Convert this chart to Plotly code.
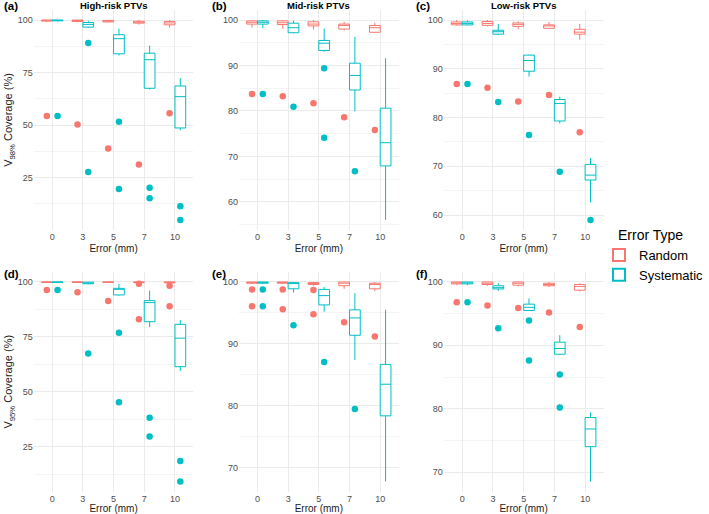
import plotly.graph_objects as go
from plotly.subplots import make_subplots

# ---------------- data ----------------
ERRORS = ["0", "3", "5", "7", "10"]
GROUPS = ["Random", "Systematic"]
RISK_TITLES = ["High-risk PTVs", "Mid-risk PTVs", "Low-risk PTVs"]
PANEL_TAGS = ["(a)", "(b)", "(c)", "(d)", "(e)", "(f)"]
Y_TITLES = ["V<sub>98%</sub> Coverage (%)", "V<sub>95%</sub> Coverage (%)"]
LEGEND_TITLE = "Error Type"
Y_DTICKS = [25, 10, 10, 25, 10, 10]

# (a) V98%, high-risk
A_RANDOM = dict(lower=[99.0, 98.9, 98.8, 97.8, 96.4], q1=[99.5, 99.3, 99.1, 98.5, 97.7],
                median=[99.8, 99.7, 99.5, 99.0, 98.6], q3=[100, 100, 99.8, 99.4, 99.3],
                upper=[100, 100, 100, 100, 100],
                out_x=["0", "3", "5", "7", "10"], out_y=[54.3, 50.3, 38.8, 31.2, 55.6])
A_SYSTEMATIC = dict(lower=[99.3, 96.2, 83.1, 66.9, 47.5], q1=[99.6, 96.6, 83.9, 67.5, 48.6],
                    median=[99.8, 97.9, 91.1, 81.1, 63.5], q3=[100, 98.8, 93.0, 84.2, 68.6],
                    upper=[100, 99.7, 95.9, 87.8, 72.3],
                    out_x=["0", "3", "3", "5", "5", "7", "7", "10", "10"],
                    out_y=[54.3, 89.0, 27.7, 51.6, 19.6, 20.1, 15.1, 11.3, 4.8])
# (b) V98%, mid-risk
B_RANDOM = dict(lower=[98.3, 98.1, 97.9, 97.7, 97.3], q1=[99.1, 99.0, 98.7, 98.0, 97.3],
                median=[99.5, 99.4, 99.1, 98.8, 98.3], q3=[99.8, 99.8, 99.6, 99.1, 98.8],
                upper=[100, 100, 100, 99.6, 99.4],
                out_x=["0", "3", "5", "7", "10"], out_y=[83.7, 83.2, 81.7, 78.6, 75.8])
B_SYSTEMATIC = dict(lower=[98.2, 97.1, 93.0, 79.9, 56.0], q1=[99.1, 97.2, 93.3, 84.6, 67.9],
                    median=[99.5, 98.3, 94.9, 87.8, 73.0], q3=[99.8, 99.3, 95.5, 90.5, 80.6],
                    upper=[100, 99.85, 98.1, 96.3, 91.6],
                    out_x=["0", "3", "5", "5", "7"], out_y=[83.7, 80.9, 89.4, 74.1, 66.7])
# (c) V98%, low-risk
C_RANDOM = dict(lower=[98.8, 98.7, 98.1, 98.2, 96.0], q1=[99.0, 98.9, 98.7, 98.3, 97.1],
                median=[99.3, 99.3, 99.1, 98.8, 97.5], q3=[99.6, 99.7, 99.4, 99.0, 98.1],
                upper=[100, 100, 99.7, 99.6, 99.2],
                out_x=["0", "3", "5", "7", "10"], out_y=[86.9, 86.1, 83.3, 84.6, 77.0])
C_SYSTEMATIC = dict(lower=[98.9, 96.9, 88.4, 78.8, 62.6], q1=[99.0, 97.1, 89.5, 79.3, 67.2],
                    median=[99.3, 97.6, 91.7, 82.9, 68.2], q3=[99.6, 97.9, 92.8, 83.7, 70.4],
                    upper=[99.9, 99.2, 92.9, 84.3, 71.7],
                    out_x=["0", "3", "5", "7", "10"], out_y=[86.9, 83.2, 76.4, 68.9, 59.0])
# (d) V95%, high-risk
D_RANDOM = dict(lower=[99.6, 99.6, 99.6, 99.3, 99.2], q1=[99.8, 99.8, 99.8, 99.7, 99.6],
                median=[99.95, 99.95, 99.95, 99.9, 99.9], q3=[100, 100, 100, 100, 100],
                upper=[100, 100, 100, 100, 100],
                out_x=["0", "3", "5", "7", "7", "10", "10"],
                out_y=[96.4, 95.3, 91.3, 99.2, 83.0, 98.3, 88.9])
D_SYSTEMATIC = dict(lower=[99.7, 98.9, 93.8, 79.4, 59.5], q1=[99.8, 99.2, 94.1, 81.9, 61.4],
                    median=[99.95, 99.5, 96.7, 90.6, 74.4], q3=[100, 99.9, 97.1, 91.5, 80.7],
                    upper=[100, 100, 99.1, 96.1, 82.6],
                    out_x=["0", "3", "5", "5", "7", "7", "10", "10"],
                    out_y=[96.4, 67.4, 76.9, 45.2, 38.1, 29.6, 18.5, 9.1])
# (e) V95%, mid-risk
E_RANDOM = dict(lower=[99.7, 99.7, 99.4, 98.9, 98.5], q1=[99.8, 99.8, 99.6, 99.4, 98.9],
                median=[99.9, 99.9, 99.8, 99.8, 99.6], q3=[100, 100, 99.9, 100, 99.8],
                upper=[100, 100, 100, 100, 100],
                out_x=["0", "0", "3", "3", "5", "5", "7", "10"],
                out_y=[98.8, 96.1, 98.8, 95.6, 98.7, 94.8, 93.5, 91.2])
E_SYSTEMATIC = dict(lower=[99.7, 98.3, 95.2, 87.4, 67.8], q1=[99.8, 98.9, 96.3, 91.4, 78.4],
                    median=[99.9, 99.8, 97.8, 94.2, 83.5], q3=[100, 99.9, 98.8, 95.5, 86.7],
                    upper=[100, 100, 99.2, 98.2, 95.5],
                    out_x=["0", "0", "3", "5", "7"], out_y=[98.8, 96.1, 93.0, 87.1, 79.5])
# (f) V95%, low-risk
F_RANDOM = dict(lower=[99.5, 99.4, 99.3, 99.2, 98.5], q1=[99.7, 99.6, 99.5, 99.4, 98.7],
                median=[99.85, 99.8, 99.8, 99.6, 99.3], q3=[100, 100, 100, 99.8, 99.6],
                upper=[100, 100, 100, 100, 99.8],
                out_x=["0", "3", "5", "7", "10"], out_y=[96.8, 96.3, 95.9, 95.2, 92.9])
F_SYSTEMATIC = dict(lower=[99.5, 98.6, 95.4, 88.5, 68.5], q1=[99.7, 98.9, 95.5, 88.6, 74.0],
                    median=[99.85, 99.1, 96.0, 89.5, 76.8], q3=[100, 99.4, 96.5, 90.5, 78.6],
                    upper=[100, 99.8, 97.4, 91.6, 79.4],
                    out_x=["0", "3", "5", "5", "7", "7"], out_y=[96.8, 92.7, 93.9, 87.6, 85.4, 80.2])

PANELS = [
    {"Random": A_RANDOM, "Systematic": A_SYSTEMATIC},
    {"Random": B_RANDOM, "Systematic": B_SYSTEMATIC},
    {"Random": C_RANDOM, "Systematic": C_SYSTEMATIC},
    {"Random": D_RANDOM, "Systematic": D_SYSTEMATIC},
    {"Random": E_RANDOM, "Systematic": E_SYSTEMATIC},
    {"Random": F_RANDOM, "Systematic": F_SYSTEMATIC},
]

# ---------------- style ----------------
COLORS = {"Random": "#F8766D", "Systematic": "#00BFC4"}
FONT = "Liberation Sans, Arial, sans-serif"
W, H = 709, 514
COL_PX = [(34.1, 195.3), (241.4, 402.6), (448.1, 609.6)]
ROW_PX = [(10.0, 230.0), (272.0, 491.5)]
GRID = "#EBEBEB"
MINOR_GRID = "#F4F4F4"

fig = make_subplots(rows=2, cols=3)

for p, panel in enumerate(PANELS):
    r, c = p // 3 + 1, p % 3 + 1
    for g in GROUPS:
        st = panel[g]
        fig.add_trace(go.Box(
            x=ERRORS, q1=st["q1"], median=st["median"], q3=st["q3"],
            lowerfence=st["lower"], upperfence=st["upper"],
            name=g, offsetgroup=g, showlegend=(p == 0),
            line=dict(color=COLORS[g], width=1), fillcolor="white",
            whiskerwidth=0, boxpoints=False, hoverinfo="skip",
        ), row=r, col=c)
        fig.add_trace(go.Scatter(
            x=st["out_x"], y=st["out_y"], mode="markers", name=g,
            offsetgroup=g, showlegend=False,
            marker=dict(color=COLORS[g], size=6.5, line=dict(width=0)),
        ), row=r, col=c)

    # axis ranges: data range expanded by 5% (ggplot default)
    vals = []
    for g in GROUPS:
        vals += panel[g]["lower"] + panel[g]["upper"] + panel[g]["out_y"]
    lo, hi = min(vals), max(vals)
    pad = 0.05 * (hi - lo)
    x0, x1 = COL_PX[c - 1]
    y0, y1 = ROW_PX[r - 1]
    dt = Y_DTICKS[p]
    fig.update_xaxes(
        row=r, col=c, type="category", categoryorder="array", categoryarray=ERRORS,
        range=[-0.6, 4.6], domain=[x0 / W, x1 / W],
        showgrid=True, gridcolor=GRID, gridwidth=1, zeroline=False, showline=False,
        ticks="", tickfont=dict(size=9, color="#4D4D4D", family=FONT),
        title=dict(text="Error (mm)", font=dict(size=10, color="#222222", family=FONT), standoff=3),
        automargin=False,
    )
    fig.update_yaxes(
        row=r, col=c, range=[lo - pad, hi + pad], domain=[1 - y1 / H, 1 - y0 / H],
        tick0=0, dtick=dt, showgrid=True, gridcolor=GRID, gridwidth=1,
        minor=dict(dtick=dt / 2, tick0=0, showgrid=True, gridcolor=MINOR_GRID, gridwidth=0.6),
        zeroline=False, showline=False, ticks="",
        tickfont=dict(size=9, color="#4D4D4D", family=FONT),
        automargin=False,
    )
    if c == 1:
        fig.update_yaxes(row=r, col=c, title=dict(
            text=Y_TITLES[r - 1], font=dict(size=11, color="#222222", family=FONT), standoff=2))

annotations = []
TAG_X = [2, 212, 418]
for p, tag in enumerate(PANEL_TAGS):
    r, c = p // 3, p % 3
    ty = 6 if r == 0 else 274
    annotations.append(dict(text="<b>%s</b>" % tag, x=TAG_X[c] / W, y=1 - ty / H,
                            xref="paper", yref="paper", xanchor="left", yanchor="middle",
                            showarrow=False, font=dict(size=11.5, color="black", family=FONT)))
for c, t in enumerate(RISK_TITLES):
    x0, x1 = COL_PX[c]
    annotations.append(dict(text="<b>%s</b>" % t, x=(x0 + x1) / 2 / W, y=1 - 5.5 / H,
                            xref="paper", yref="paper", xanchor="center", yanchor="middle",
                            showarrow=False, font=dict(size=9.5, color="black", family=FONT)))
# legend title, aligned with the legend keys
annotations.append(dict(text=LEGEND_TITLE, x=622 / W, y=1 - 235 / H,
                        xref="paper", yref="paper", xanchor="left", yanchor="middle",
                        showarrow=False, font=dict(size=14, color="black", family=FONT)))

fig.update_layout(
    width=W, height=H, margin=dict(l=0, r=0, t=0, b=0),
    paper_bgcolor="white", plot_bgcolor="white",
    boxmode="group", boxgap=0.3, boxgroupgap=0,
    scattermode="group", scattergap=0.3,
    font=dict(family=FONT),
    annotations=annotations,
    legend=dict(
        font=dict(size=13, color="black", family=FONT),
        x=605 / W, y=1 - 240 / H, xanchor="left", yanchor="top",
        bgcolor="rgba(0,0,0,0)", tracegroupgap=0, itemsizing="constant",
    ),
)

fig.write_html("out.html", config={"displayModeBar": False},
               post_script="document.body.style.margin='0';document.body.style.overflow='hidden';")
